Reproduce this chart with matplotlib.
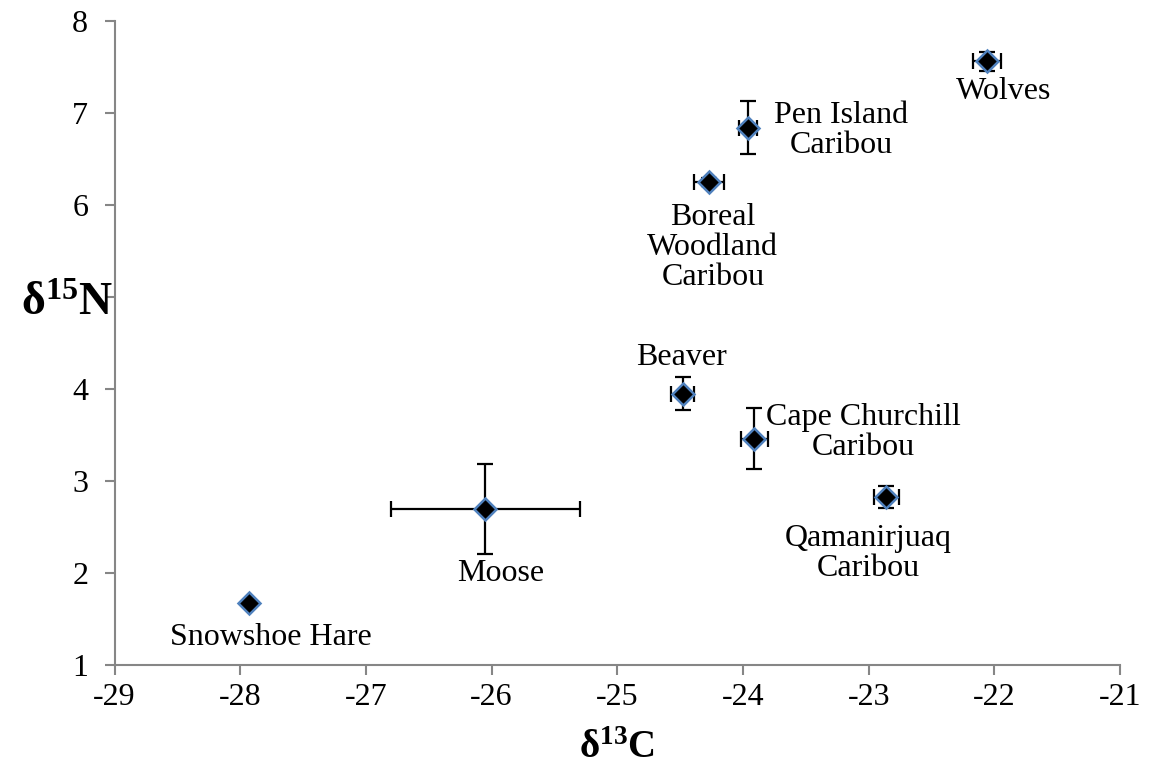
import matplotlib.pyplot as plt
import numpy as np

plt.rcParams['font.family'] = ['Liberation Serif', 'DejaVu Serif']
plt.rcParams['mathtext.fontset'] = 'custom'
plt.rcParams['mathtext.rm'] = 'Liberation Serif'
plt.rcParams['mathtext.bf'] = 'Liberation Serif:bold'
plt.rcParams['mathtext.default'] = 'bf'
plt.rcParams['axes.unicode_minus'] = False

# groups and stable-isotope means / errors
groups = ['Snowshoe Hare', 'Moose', 'Beaver', 'Boreal\nWoodland\nCaribou',
          'Pen Island\nCaribou', 'Cape Churchill\nCaribou', 'Qamanirjuaq\nCaribou', 'Wolves']
d13c = [-27.93, -26.05, -24.48, -24.27, -23.96, -23.91, -22.86, -22.06]
d15n = [1.68, 2.70, 3.95, 6.25, 6.84, 3.46, 2.83, 7.56]
d13c_err = [0.0, 0.75, 0.09, 0.12, 0.07, 0.11, 0.10, 0.11]
d15n_err = [0.0, 0.49, 0.18, 0.04, 0.29, 0.33, 0.12, 0.10]

# label anchor points (data coords)
label_x = [-27.76, -25.93, -24.49, -24.24, -23.22, -23.04, -23.0, -21.93]
label_y = [1.30, 2.00, 4.34, 5.54, 6.81, 3.53, 2.21, 7.23]

fig = plt.figure(figsize=(11.5, 7.68), dpi=100)
ax = fig.add_axes([0.0996, 0.134, 0.8744, 0.8387])

ax.errorbar(d13c, d15n, xerr=d13c_err, yerr=d15n_err, fmt='none',
            ecolor='black', elinewidth=1.6, capsize=5.5, capthick=1.6, zorder=2)
ax.plot(d13c, d15n, linestyle='none', marker='D', markersize=11,
        markerfacecolor='black', markeredgecolor='#4F81BD', markeredgewidth=1.8, zorder=3)

for name, lx, ly in zip(groups, label_x, label_y):
    ax.text(lx, ly, name, ha='center', va='center', fontsize=23, linespacing=1.05)

ax.set_xlim(-29, -21)
ax.set_ylim(1, 8)
ax.set_xticks(np.arange(-29, -20, 1))
ax.set_yticks(np.arange(1, 9, 1))
ax.tick_params(labelsize=23, direction='out', length=7, width=1.5, color='#868686')
ax.tick_params(axis='x', pad=6)
ax.tick_params(axis='y', pad=12)

for side in ['top', 'right']:
    ax.spines[side].set_visible(False)
for side in ['left', 'bottom']:
    ax.spines[side].set_color('#868686')
    ax.spines[side].set_linewidth(1.5)

# the y title sits on top of the "5" tick label, as in the original
ytick_labels = [str(v) if v != 5 else '' for v in range(1, 9)]
ax.set_yticklabels(ytick_labels)

ax.set_xlabel('δ$^{13}$C', fontsize=28, fontweight='bold')
ax.set_ylabel('δ$^{15}$N', fontsize=33, fontweight='bold', rotation=0, va='center')
ax.yaxis.set_label_coords(-0.047, 0.56)
ax.xaxis.set_label_coords(0.5, -0.1)

fig.savefig('out.png', dpi=100)
